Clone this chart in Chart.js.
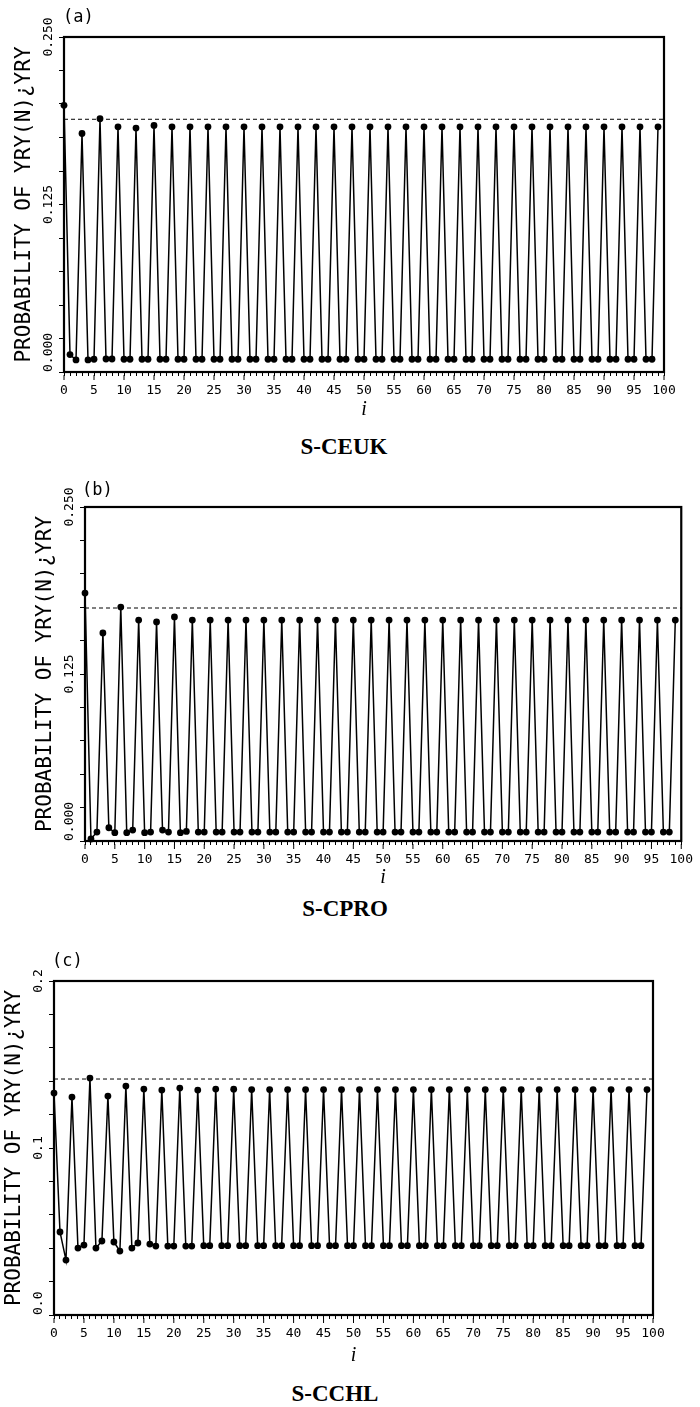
<!DOCTYPE html>
<html>
<head>
<meta charset="utf-8">
<script src="https://cdn.jsdelivr.net/npm/chart.js@4.4.1/dist/chart.umd.min.js"></script>
<style>
  body { margin: 0; background: #fff; width: 700px; height: 1407px; position: relative; overflow: hidden; }
  canvas { position: absolute; left: 0; }
  .tag { position: absolute; font: 17px "DejaVu Sans Mono", monospace; color: #000; line-height: 1; transform: translateY(-50%); }
  .cap { position: absolute; font: bold 23px "Liberation Serif", serif; color: #000; line-height: 1; transform: translate(-50%, -50%); white-space: nowrap; }
</style>
</head>
<body>
<canvas id="chartA" width="700" height="425" style="top:0px"></canvas>
<canvas id="chartB" width="700" height="423" style="top:470px"></canvas>
<canvas id="chartC" width="700" height="427" style="top:944px"></canvas>

<div class="tag" style="left:63px; top:16px">(a)</div>
<div class="tag" style="left:82px; top:489px">(b)</div>
<div class="tag" style="left:52px; top:960px">(c)</div>

<div class="cap" style="left:344px; top:446px">S-CEUK</div>
<div class="cap" style="left:345px; top:908px">S-CPRO</div>
<div class="cap" style="left:335px; top:1393px">S-CCHL</div>

<script>
const xTitle = 'i';
const yTitle = 'PROBABILITY OF YRY(N)\u00BFYRY';

const steps = Array.from({ length: 100 }, (_, i) => i);
const xMajorTicks = [0, 5, 10, 15, 20, 25, 30, 35, 40, 45, 50, 55, 60, 65, 70, 75, 80, 85, 90, 95, 100];

const yTickValsAB = [0, 0.125, 0.25];
const yTickLabelsAB = ['0.000', '0.125', '0.250'];
const yTickValsC = [0, 0.1, 0.2];
const yTickLabelsC = ['0.0', '0.1', '0.2'];

// S-CEUK
const probA = [
  0.199, 0.013, 0.009,
  0.178, 0.009, 0.0095,
  0.189, 0.0097, 0.0097,
  0.183, 0.0095, 0.0095,
  0.182, 0.0095, 0.0095,
  0.184, 0.0095, 0.0095,
  0.183, 0.0095, 0.0095,
  0.183, 0.0095, 0.0095,
  0.183, 0.0095, 0.0095,
  0.183, 0.0095, 0.0095,
  0.183, 0.0095, 0.0095,
  0.183, 0.0095, 0.0095,
  0.183, 0.0095, 0.0095,
  0.183, 0.0095, 0.0095,
  0.183, 0.0095, 0.0095,
  0.183, 0.0095, 0.0095,
  0.183, 0.0095, 0.0095,
  0.183, 0.0095, 0.0095,
  0.183, 0.0095, 0.0095,
  0.183, 0.0095, 0.0095,
  0.183, 0.0095, 0.0095,
  0.183, 0.0095, 0.0095,
  0.183, 0.0095, 0.0095,
  0.183, 0.0095, 0.0095,
  0.183, 0.0095, 0.0095,
  0.183, 0.0095, 0.0095,
  0.183, 0.0095, 0.0095,
  0.183, 0.0095, 0.0095,
  0.183, 0.0095, 0.0095,
  0.183, 0.0095, 0.0095,
  0.183, 0.0095, 0.0095,
  0.183, 0.0095, 0.0095,
  0.183, 0.0095, 0.0095,
  0.183
];
const limitA = 0.1886;

// S-CPRO
const probB = [
  0.1856, 0.0015, 0.0067,
  0.1557, 0.0099, 0.0062,
  0.1751, 0.0062, 0.0082,
  0.1654, 0.0062, 0.0067,
  0.164, 0.0082, 0.0067,
  0.1677, 0.0062, 0.0072,
  0.1654, 0.0067, 0.0067,
  0.1654, 0.0067, 0.0067,
  0.1654, 0.0067, 0.0067,
  0.1654, 0.0067, 0.0067,
  0.1654, 0.0067, 0.0067,
  0.1654, 0.0067, 0.0067,
  0.1654, 0.0067, 0.0067,
  0.1654, 0.0067, 0.0067,
  0.1654, 0.0067, 0.0067,
  0.1654, 0.0067, 0.0067,
  0.1654, 0.0067, 0.0067,
  0.1654, 0.0067, 0.0067,
  0.1654, 0.0067, 0.0067,
  0.1654, 0.0067, 0.0067,
  0.1654, 0.0067, 0.0067,
  0.1654, 0.0067, 0.0067,
  0.1654, 0.0067, 0.0067,
  0.1654, 0.0067, 0.0067,
  0.1654, 0.0067, 0.0067,
  0.1654, 0.0067, 0.0067,
  0.1654, 0.0067, 0.0067,
  0.1654, 0.0067, 0.0067,
  0.1654, 0.0067, 0.0067,
  0.1654, 0.0067, 0.0067,
  0.1654, 0.0067, 0.0067,
  0.1654, 0.0067, 0.0067,
  0.1654, 0.0067, 0.0067,
  0.1654
];
const limitB = 0.1744;

// S-CCHL
const probC = [
  0.1329, 0.0497, 0.0329,
  0.1305, 0.0401, 0.0419,
  0.1419, 0.0401, 0.0443,
  0.1311, 0.0437, 0.0383,
  0.1371, 0.0401, 0.0431,
  0.1353, 0.0425, 0.0413,
  0.1347, 0.0413, 0.0413,
  0.1359, 0.0413, 0.0413,
  0.1347, 0.0415, 0.0415,
  0.1353, 0.0415, 0.0415,
  0.1352, 0.0415, 0.0415,
  0.135, 0.0415, 0.0415,
  0.135, 0.0415, 0.0415,
  0.135, 0.0415, 0.0415,
  0.135, 0.0415, 0.0415,
  0.135, 0.0415, 0.0415,
  0.135, 0.0415, 0.0415,
  0.135, 0.0415, 0.0415,
  0.135, 0.0415, 0.0415,
  0.135, 0.0415, 0.0415,
  0.135, 0.0415, 0.0415,
  0.135, 0.0415, 0.0415,
  0.135, 0.0415, 0.0415,
  0.135, 0.0415, 0.0415,
  0.135, 0.0415, 0.0415,
  0.135, 0.0415, 0.0415,
  0.135, 0.0415, 0.0415,
  0.135, 0.0415, 0.0415,
  0.135, 0.0415, 0.0415,
  0.135, 0.0415, 0.0415,
  0.135, 0.0415, 0.0415,
  0.135, 0.0415, 0.0415,
  0.135, 0.0415, 0.0415,
  0.135
];
const limitC = 0.1413;

const monoFont = '"DejaVu Sans Mono", monospace';

// box frame, rotated y labels, longer marks at the labelled x steps
const framePlugin = {
  id: 'frame',
  afterDraw(chart, args, o) {
    const { ctx, chartArea: a, scales: { x, y } } = chart;
    ctx.save();
    ctx.strokeStyle = '#000';
    ctx.lineWidth = 2.2;
    ctx.strokeRect(a.left, a.top, a.right - a.left, a.bottom - a.top);

    ctx.lineWidth = 1;
    xMajorTicks.forEach(v => {
      const px = x.getPixelForValue(v);
      ctx.beginPath();
      ctx.moveTo(px, a.bottom + 3);
      ctx.lineTo(px, a.bottom + 8);
      ctx.stroke();
    });

    ctx.font = '13px ' + monoFont;
    ctx.fillStyle = '#000';
    ctx.textBaseline = 'middle';
    o.values.forEach((v, k) => {
      const py = y.getPixelForValue(v);
      ctx.save();
      ctx.translate(a.left - 15, py);
      ctx.rotate(-Math.PI / 2);
      ctx.textAlign = k === 0 ? 'left' : 'center';
      ctx.fillText(o.labels[k], 0, 0);
      ctx.restore();
    });
    ctx.restore();
  }
};

function makePanel(id, values, limit, yMax, yStep, tickVals, tickLabels, box) {
  const canvas = document.getElementById(id);
  const W = canvas.width, H = canvas.height;

  return new Chart(canvas, {
    type: 'line',
    data: {
      datasets: [
        {
          data: steps.map((s, k) => ({ x: s, y: values[k] })),
          borderColor: '#000',
          borderWidth: 1.5,
          pointRadius: 3.4,
          pointBackgroundColor: '#000',
          pointBorderWidth: 0,
          tension: 0,
          clip: false
        },
        {
          data: [{ x: 0, y: limit }, { x: 100, y: limit }],
          borderColor: '#000',
          borderWidth: 1,
          borderDash: [4, 3],
          pointRadius: 0,
          tension: 0
        }
      ]
    },
    options: {
      responsive: false,
      animation: false,
      layout: { padding: { left: 0, top: box.top, right: W - box.right, bottom: 0 } },
      plugins: {
        legend: { display: false },
        tooltip: { enabled: false },
        frame: { values: tickVals, labels: tickLabels }
      },
      scales: {
        x: {
          type: 'linear',
          min: 0,
          max: 100,
          ticks: {
            stepSize: 1,
            autoSkip: false,
            maxRotation: 0,
            padding: 7,
            color: '#000',
            font: { family: monoFont, size: 13 },
            callback: v => (v % 5 === 0 ? String(v) : '')
          },
          grid: { drawOnChartArea: false, tickLength: 4, tickColor: '#000', tickWidth: 1 },
          border: { display: false },
          title: {
            display: true,
            text: xTitle,
            color: '#000',
            font: { family: '"Liberation Serif", serif', size: 20, style: 'italic' },
            padding: { top: 0, bottom: 3 }
          },
          afterFit: s => { s.height = H - box.bottom; }
        },
        y: {
          min: 0,
          max: yMax,
          ticks: { stepSize: yStep, display: false },
          grid: { drawOnChartArea: false, tickLength: 5, tickColor: '#000', tickWidth: 1 },
          border: { display: false },
          title: {
            display: true,
            text: yTitle,
            color: '#000',
            font: { family: monoFont, size: 21 },
            padding: { top: box.left - 52, bottom: 0 }
          },
          afterFit: s => { s.width = box.left; }
        }
      }
    },
    plugins: [framePlugin]
  });
}

makePanel('chartA', probA, limitA, 0.25, 0.025, yTickValsAB, yTickLabelsAB,
  { left: 64, top: 37, right: 664, bottom: 372 });
makePanel('chartB', probB, limitB, 0.25, 0.025, yTickValsAB, yTickLabelsAB,
  { left: 85, top: 37, right: 685, bottom: 371 });
makePanel('chartC', probC, limitC, 0.2, 0.02, yTickValsC, yTickLabelsC,
  { left: 54, top: 37, right: 653, bottom: 371 });
</script>
</body>
</html>
